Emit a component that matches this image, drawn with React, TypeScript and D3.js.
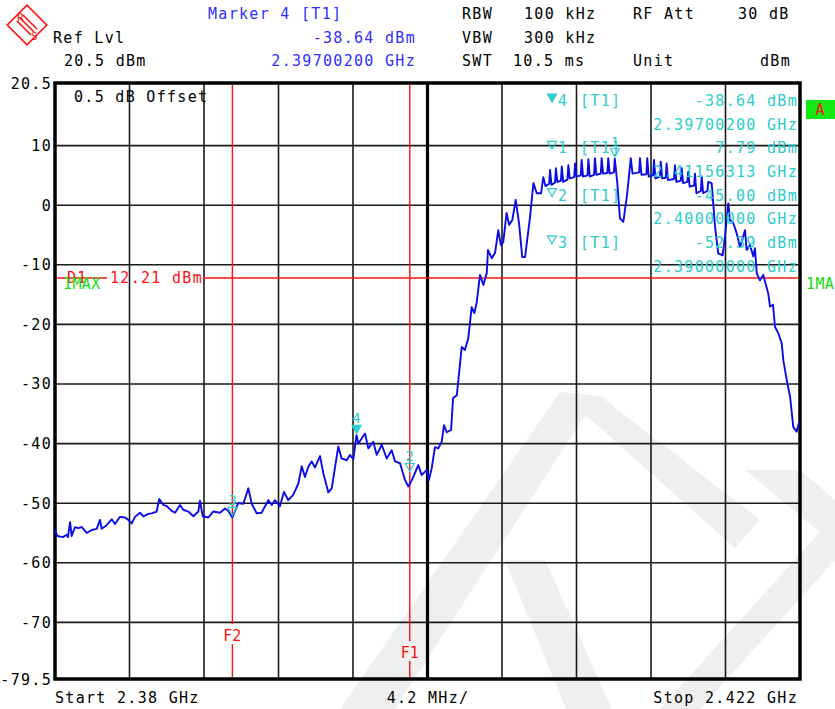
import React from 'react';
import * as d3 from 'd3';

// trace (frequency in MHz, level in dBm)
const freqMHz = [
  2380.0, 2380.13, 2380.45, 2380.66, 2380.73, 2380.85, 2380.94, 2381.13, 2381.31, 2381.51,
  2381.79, 2382.07, 2382.35, 2382.54, 2382.63, 2382.91, 2383.2, 2383.38, 2383.66, 2383.95,
  2384.13, 2384.32, 2384.51, 2384.79, 2384.98, 2385.26, 2385.45, 2385.73, 2385.88, 2386.11,
  2386.3, 2386.58, 2386.77, 2387.05, 2387.23, 2387.52, 2387.8, 2388.08, 2388.17, 2388.33,
  2388.64, 2388.92, 2389.3, 2389.58, 2389.77, 2390.0, 2390.33, 2390.62, 2390.9, 2391.09,
  2391.37, 2391.65, 2391.84, 2392.03, 2392.22, 2392.4, 2392.68, 2392.91, 2393.15, 2393.43,
  2393.72, 2393.91, 2394.09, 2394.28, 2394.47, 2394.66, 2394.94, 2395.13, 2395.41, 2395.6,
  2395.97, 2396.16, 2396.44, 2396.63, 2396.82, 2397.0, 2397.1, 2397.48, 2397.66, 2397.94,
  2398.14, 2398.42, 2398.7, 2398.98, 2399.17, 2399.45, 2399.73, 2399.92, 2400.0, 2400.2,
  2400.48, 2400.67, 2400.96, 2401.08, 2401.24, 2401.42, 2401.61, 2401.8, 2401.93, 2402.08,
  2402.33, 2402.44, 2402.65, 2402.93, 2403.11, 2403.3, 2403.49, 2403.64, 2403.77, 2403.96,
  2404.15, 2404.34, 2404.41, 2404.62, 2404.81, 2404.99, 2405.14, 2405.27, 2405.46, 2405.6,
  2405.78, 2405.97, 2406.16, 2406.34, 2406.5, 2406.78, 2406.97, 2407.16, 2407.4, 2407.53,
  2407.65, 2407.86, 2407.91, 2407.99, 2408.19, 2408.24, 2408.32, 2408.52, 2408.57, 2408.65,
  2408.89, 2408.94, 2409.02, 2409.27, 2409.32, 2409.4, 2409.64, 2409.69, 2409.77, 2410.02,
  2410.07, 2410.15, 2410.39, 2410.44, 2410.52, 2410.77, 2410.82, 2410.9, 2411.14, 2411.19,
  2411.27, 2411.51, 2411.56, 2411.7, 2411.85, 2412.04, 2412.26, 2412.46, 2412.56, 2412.93,
  2412.98, 2413.06, 2413.34, 2413.39, 2413.47, 2413.72, 2413.77, 2413.85, 2414.1, 2414.15,
  2414.23, 2414.43, 2414.48, 2414.56, 2414.9, 2414.95, 2415.03, 2415.28, 2415.33, 2415.41,
  2415.65, 2415.7, 2415.78, 2416.03, 2416.08, 2416.16, 2416.41, 2416.46, 2416.54, 2416.78,
  2416.83, 2417.02, 2417.21, 2417.39, 2417.64, 2417.77, 2417.96, 2418.05, 2418.24, 2418.43,
  2418.62, 2418.9, 2418.99, 2419.18, 2419.37, 2419.46, 2419.56, 2419.74, 2419.93, 2420.08,
  2420.21, 2420.31, 2420.48, 2420.59, 2420.78, 2420.97, 2421.06, 2421.25, 2421.44, 2421.62,
  2421.81, 2421.94,
];
const levelDbm = [
  -54.5, -55.5, -55.7, -55.3, -55.7, -53.2, -55.5, -54.0, -54.2, -54.0,
  -55.0, -54.5, -54.3, -52.8, -54.3, -53.7, -52.7, -53.5, -52.3, -52.4,
  -52.8, -53.4, -52.3, -51.6, -52.2, -51.8, -51.7, -51.4, -49.3, -50.3,
  -50.5, -51.3, -51.6, -50.3, -51.1, -51.4, -52.2, -51.4, -49.6, -52.2,
  -52.4, -51.4, -51.6, -50.9, -51.3, -52.4, -50.0, -50.1, -47.5, -50.1,
  -51.7, -51.6, -50.5, -49.5, -50.3, -49.5, -50.5, -48.1, -49.5, -48.6,
  -46.7, -43.8, -45.6, -43.9, -43.0, -44.0, -42.1, -45.0, -48.2, -47.5,
  -40.5, -42.5, -42.8, -41.9, -42.6, -38.6, -40.0, -38.3, -40.8, -39.7,
  -41.9, -40.2, -42.5, -41.1, -43.0, -43.3, -46.1, -47.2, -46.8, -45.6,
  -43.6, -45.3, -44.4, -46.1, -44.1, -40.6, -40.8, -39.7, -36.9, -38.1,
  -37.7, -32.4, -31.9, -23.8, -24.3, -22.3, -17.1, -18.1, -16.4, -11.7,
  -13.4, -11.4, -7.5, -8.9, -8.0, -4.2, -6.7, -6.2, -1.3, -3.3,
  -2.5, 0.9, -3.0, -8.7, -8.7, -2.0, 3.7, 2.0, 2.0, 4.7,
  3.2, 3.6, 5.9, 3.4, 3.8, 6.2, 3.9, 4.1, 6.5, 3.9,
  4.3, 6.7, 4.5, 4.7, 7.0, 4.8, 5.0, 7.6, 4.8, 5.0,
  7.7, 4.8, 5.1, 7.9, 5.1, 5.3, 7.9, 5.3, 5.4, 7.9,
  5.3, 5.5, 7.8, 3.7, -2.2, -2.8, 2.0, 7.9, 5.3, 5.5,
  7.9, 5.1, 5.2, 7.9, 4.8, 5.0, 7.6, 4.5, 4.8, 7.3,
  4.5, 4.6, 7.0, 4.2, 4.4, 6.7, 3.9, 4.1, 6.2, 3.7,
  3.9, 5.6, 3.1, 3.3, 5.3, 2.0, 2.4, 4.8, 2.0, 2.4,
  3.9, 3.7, -3.6, -8.1, -8.4, -5.3, 0.3, -2.5, -3.0, -4.7,
  -7.0, -4.2, -7.5, -6.7, -8.6, -7.2, -11.4, -12.6, -11.7, -13.4,
  -14.8, -17.0, -16.7, -20.4, -21.5, -23.2, -26.0, -29.3, -32.1, -37.2,
  -38.0, -36.5,
];

const yGrid = [10, 0, -10, -20, -30, -40, -50, -60, -70];
const yTickValues = [20.5, 10, 0, -10, -20, -30, -40, -50, -60, -70, -79.5];
const yTickLabels = ['20.5', '10', '0', '-10', '-20', '-30', '-40', '-50', '-60', '-70', '-79.5'];

const markerIds = ['4', '1', '2', '3'];
const markerFreqs = [2397.002, 2411.56313, 2400.0, 2390.0];
const markerLevels = [-38.64, 7.79, -45.0, -52.39];
const markerFilled = [true, false, false, false];
const markerLevelText = ['-38.64 dBm', '7.79 dBm', '-45.00 dBm', '-52.39 dBm'];
const markerFreqText = ['2.39700200 GHz', '2.41156313 GHz', '2.40000000 GHz', '2.39000000 GHz'];

const displayLine = -12.21;
const freqLines = [2390, 2400];
const freqLineNames = ['F2', 'F1'];

const W = 835;
const H = 709;
const L = 55;
const R = 800;
const T = 83;
const B = 679;

const FONT = "'DejaVu Sans Mono', monospace";
const BLUE = '#2f2fff';
const CYAN = '#2ccccc';
const RED = '#ff1010';
const GREEN = '#10dd10';

const txt = { fontFamily: FONT, fontSize: 15, letterSpacing: 1.3 } as const;

const tri = (cx: number, tip: number) => `M${cx - 4.5},${tip - 8}L${cx + 4.5},${tip - 8}L${cx},${tip}Z`;

export default function App() {
  const x = d3.scaleLinear().domain([2380, 2422]).range([L, R]);
  const y = d3.scaleLinear().domain([-79.5, 20.5]).range([B, T]);
  const pts = freqMHz.map((f, i) => [f, levelDbm[i]] as [number, number]);
  const line = d3
    .line<[number, number]>()
    .x(d => x(d[0]))
    .y(d => y(d[1]));
  const xGrid = d3.range(1, 10).map(i => 2380 + i * 4.2);
  const dY = y(displayLine);

  return (
    <svg width={W} height={H} style={{ position: 'fixed', left: 0, top: 0, background: '#fff' }}>
      <rect width={W} height={H} fill="#fff" />

      {/* faint watermark */}
      <g fill="#efefef">
        <polygon points="340,709 395,709 595,400 560,392" />
        <polygon points="560,392 600,396 760,520 735,548" />
        <polygon points="505,560 545,560 612,709 566,709" />
        <polygon points="660,709 700,709 835,560 835,515" />
        <polygon points="745,470 800,470 835,500 835,545" />
      </g>

      {/* header */}
      <g fill="#000" {...txt}>
        <text x={53} y={43}>Ref Lvl</text>
        <text x={64} y={66}>20.5 dBm</text>
        <text x={462} y={19}>RBW</text>
        <text x={524} y={19}>100 kHz</text>
        <text x={633} y={19}>RF Att</text>
        <text x={738} y={19}>30 dB</text>
        <text x={462} y={43}>VBW</text>
        <text x={524} y={43}>300 kHz</text>
        <text x={462} y={66}>SWT</text>
        <text x={513} y={66}>10.5 ms</text>
        <text x={633} y={66}>Unit</text>
        <text x={791} y={66} textAnchor="end">dBm</text>
      </g>
      <g fill={BLUE} {...txt}>
        <text x={208} y={19}>Marker 4 [T1]</text>
        <text x={416} y={43} textAnchor="end">-38.64 dBm</text>
        <text x={416} y={66} textAnchor="end">2.39700200 GHz</text>
      </g>

      {/* R&S logo */}
      <g stroke={RED} fill="none" strokeWidth={1.6}>
        <rect x={13} y={11} width={28} height={28} transform="rotate(45 27 25)" />
        <line x1={17} y1={21} x2={31} y2={35} />
        <line x1={20} y1={18} x2={34} y2={32} />
        <line x1={23} y1={15} x2={37} y2={29} />
      </g>
      <text x={17} y={21} fill={RED} fontFamily={FONT} fontSize={11}>R</text>
      <text x={31} y={40} fill={RED} fontFamily={FONT} fontSize={11}>S</text>

      {/* grid */}
      <g stroke="#1a1a1a" strokeWidth={1.6}>
        {yGrid.map(v => (
          <line key={'h' + v} x1={L} x2={R} y1={y(v)} y2={y(v)} />
        ))}
        {xGrid.map((f, i) => (
          <line key={'v' + i} x1={x(f)} x2={x(f)} y1={T} y2={B} strokeWidth={i === 4 ? 3.2 : 1.6} stroke={i === 4 ? '#000' : '#1a1a1a'} />
        ))}
      </g>
      <rect x={L} y={T} width={R - L} height={B - T} fill="none" stroke="#000" strokeWidth={3.5} />

      {/* y labels */}
      <g fill="#000" {...txt} textAnchor="end">
        {yTickValues.map((v, i) => (
          <text key={v} x={52} y={y(v) + 5.5}>{yTickLabels[i]}</text>
        ))}
      </g>

      <text x={74} y={102} fill="#000" {...txt}>0.5 dB Offset</text>

      {/* frequency lines */}
      {freqLines.map((f, i) => {
        const ly = i === 0 ? 641 : 658;
        return (
          <g key={f}>
            <line x1={x(f)} x2={x(f)} y1={T + 2} y2={ly - 17} stroke={RED} strokeWidth={1.4} />
            <line x1={x(f)} x2={x(f)} y1={ly + 3} y2={B - 2} stroke={RED} strokeWidth={1.4} />
            <text x={x(f)} y={ly} fill={RED} {...txt} letterSpacing={0} textAnchor="middle">{freqLineNames[i]}</text>
          </g>
        );
      })}

      {/* display line D1 */}
      <line x1={L + 2} x2={107} y1={dY} y2={dY} stroke={RED} strokeWidth={1.4} />
      <line x1={203} x2={R - 2} y1={dY} y2={dY} stroke={RED} strokeWidth={1.4} />
      <text x={67} y={dY + 5} fill={RED} {...txt}>D1</text>
      <text x={110} y={dY + 5} fill={RED} {...txt}>12.21 dBm</text>
      <text x={63} y={dY + 11} fill={GREEN} {...txt} letterSpacing={0.4}>1MAX</text>
      <text x={806} y={dY + 11} fill={GREEN} {...txt} letterSpacing={0.4}>1MA</text>

      {/* trace */}
      <path d={line(pts) ?? ''} fill="none" stroke="#0b0be8" strokeWidth={1.9} strokeLinejoin="round" />

      {/* markers on trace */}
      {markerIds.map((id, i) => {
        const cx = x(markerFreqs[i]);
        const tip = y(markerLevels[i]) - 2;
        return (
          <g key={id}>
            <path d={tri(cx, tip)} fill={markerFilled[i] ? CYAN : 'none'} stroke={CYAN} strokeWidth={1.2} />
            <text x={cx} y={tip - 10} fill={CYAN} fontFamily={FONT} fontSize={14} textAnchor="middle">{id}</text>
          </g>
        );
      })}

      {/* marker table */}
      <g fill={CYAN} {...txt}>
        {markerIds.map((id, i) => {
          const by = 106 + i * 47.3;
          return (
            <g key={'t' + id}>
              <path d={tri(552, by - 4)} fill={markerFilled[i] ? CYAN : 'none'} stroke={CYAN} strokeWidth={1.2} />
              <text x={558} y={by}>{id}</text>
              <text x={580} y={by}>[T1]</text>
              <text x={798} y={by} textAnchor="end">{markerLevelText[i]}</text>
              <text x={798} y={by + 23.7} textAnchor="end">{markerFreqText[i]}</text>
            </g>
          );
        })}
      </g>

      {/* A box */}
      <rect x={806} y={100} width={29} height={19} fill="#12e812" />
      <text x={820} y={115} fill={RED} fontFamily={FONT} fontSize={15} textAnchor="middle">A</text>

      {/* bottom */}
      <g fill="#000" {...txt}>
        <text x={55} y={703}>Start 2.38 GHz</text>
        <text x={428} y={703} textAnchor="middle">4.2 MHz/</text>
        <text x={798} y={703} textAnchor="end">Stop 2.422 GHz</text>
      </g>
    </svg>
  );
}
